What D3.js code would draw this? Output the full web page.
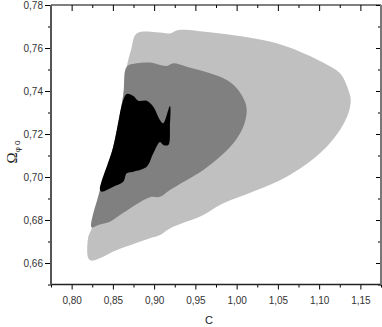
<!DOCTYPE html>
<html>
<head>
<meta charset="utf-8">
<script src="https://cdn.jsdelivr.net/npm/d3@7"></script>
<style>
  body { margin: 0; background: #fff; }
  text { font-family: "Liberation Sans", Arial, sans-serif; }
</style>
</head>
<body>
<svg id="chart" width="382" height="327"></svg>
<script>
// tick values
var xMajor = [0.80, 0.85, 0.90, 0.95, 1.00, 1.05, 1.10, 1.15];
var xMinor = [0.775, 0.825, 0.875, 0.925, 0.975, 1.025, 1.075, 1.125, 1.175];
var yMajor = [0.66, 0.68, 0.70, 0.72, 0.74, 0.76, 0.78];
var yMinor = [0.65, 0.67, 0.69, 0.71, 0.73, 0.75, 0.77];

// confidence regions, [C, Omega_phi0]
var region3 = [[0.8789,0.7668],[0.9031,0.7673],[0.9192,0.7668],[0.9293,0.7684],[0.9677,0.7673],
  [1.0077,0.7653],[1.0486,0.7622],[1.0768,0.7583],[1.1010,0.7540],[1.1253,0.7482],[1.1354,0.7405],
  [1.1383,0.7358],[1.1354,0.7296],[1.1253,0.7219],[1.1010,0.7110],[1.0607,0.7001],[1.0202,0.6932],
  [0.9798,0.6870],[0.9596,0.6823],[0.9192,0.6761],[0.9071,0.6730],[0.8950,0.6715],[0.8505,0.6653],
  [0.8384,0.6629],[0.8243,0.6611],[0.8202,0.6622],[0.8202,0.6722],[0.8243,0.6761],[0.8344,0.6940],
  [0.8505,0.7141],[0.8626,0.7381],[0.8668,0.7513],[0.8720,0.7591]];
var region2 = [[0.8668,0.7513],[0.8789,0.7529],[0.8950,0.7532],[0.9152,0.7516],[0.9232,0.7529],
  [0.9395,0.7513],[0.9677,0.7482],[0.9880,0.7451],[1.0001,0.7413],[1.0102,0.7350],[1.0122,0.7304],
  [1.0081,0.7234],[0.9960,0.7157],[0.9798,0.7094],[0.9596,0.7033],[0.9192,0.6940],[0.9071,0.6908],
  [0.8950,0.6906],[0.8586,0.6823],[0.8465,0.6792],[0.8323,0.6777],[0.8243,0.6766],[0.8344,0.6940],
  [0.8505,0.7141],[0.8626,0.7381]];
var region1 = [[0.8668,0.7386],[0.8748,0.7377],[0.8808,0.7355],[0.8910,0.7355],[0.8990,0.7327],
  [0.9071,0.7265],[0.9111,0.7250],[0.9192,0.7330],[0.9192,0.7234],[0.9172,0.7149],[0.9111,0.7149],
  [0.9071,0.7163],[0.8990,0.7110],[0.8910,0.7048],[0.8748,0.7025],[0.8668,0.7017],[0.8626,0.6978],
  [0.8505,0.6955],[0.8365,0.6932],[0.8344,0.6940],[0.8505,0.7141],[0.8626,0.7358]];

var regions = [
  {pts: region3, fill: "#c0c0c0"},
  {pts: region2, fill: "#808080"},
  {pts: region1, fill: "#000000"}
];

var svg = d3.select("#chart"),
    x0 = 51, x1 = 381, y0 = 5, y1 = 284.5;

var x = d3.scaleLinear().domain([0.775, 1.175]).range([x0, x1]);
var y = d3.scaleLinear().domain([0.65, 0.78]).range([y1, y0]);

var fmt = d => d3.format(".2f")(d).replace(".", ",");

var line = d3.line()
    .x(d => x(d[0]))
    .y(d => y(d[1]))
    .curve(d3.curveCatmullRomClosed.alpha(0.5));

svg.append("g")
  .selectAll("path")
  .data(regions)
  .enter().append("path")
    .attr("d", d => line(d.pts))
    .attr("fill", d => d.fill)
    .attr("stroke", "none");

// axes
function styleAxis(g) {
  g.select(".domain").remove();
  g.selectAll("line").attr("stroke", "#000");
  g.selectAll("text")
    .attr("fill", "#333")
    .style("font-size", "10px");
}

svg.append("g")
  .attr("transform", "translate(0," + y1 + ")")
  .call(d3.axisBottom(x).tickValues(xMajor).tickSize(5).tickPadding(7).tickFormat(fmt))
  .call(styleAxis);
svg.append("g")
  .attr("transform", "translate(0," + y1 + ")")
  .call(d3.axisBottom(x).tickValues(xMinor).tickSize(3).tickFormat(""))
  .call(styleAxis);

svg.append("g")
  .attr("transform", "translate(" + x0 + ",0)")
  .call(d3.axisLeft(y).tickValues(yMajor).tickSize(6).tickPadding(2).tickFormat(fmt))
  .call(styleAxis);
svg.append("g")
  .attr("transform", "translate(" + x0 + ",0)")
  .call(d3.axisLeft(y).tickValues(yMinor).tickSize(3).tickFormat(""))
  .call(styleAxis);

// mirrored ticks pointing inward on top and right
svg.append("g")
  .attr("transform", "translate(0," + y0 + ")")
  .call(d3.axisBottom(x).tickValues(xMajor).tickSize(6).tickFormat(""))
  .call(styleAxis);
svg.append("g")
  .attr("transform", "translate(0," + y0 + ")")
  .call(d3.axisBottom(x).tickValues(xMinor).tickSize(3).tickFormat(""))
  .call(styleAxis);
svg.append("g")
  .attr("transform", "translate(" + x1 + ",0)")
  .call(d3.axisLeft(y).tickValues(yMajor).tickSize(5).tickFormat(""))
  .call(styleAxis);
svg.append("g")
  .attr("transform", "translate(" + x1 + ",0)")
  .call(d3.axisLeft(y).tickValues(yMinor).tickSize(3).tickFormat(""))
  .call(styleAxis);

// frame
var frame = svg.append("g");
frame.append("line").attr("x1", x0).attr("x2", x1).attr("y1", y0).attr("y2", y0)
  .attr("stroke", "#000").attr("stroke-width", 1.2);
frame.append("line").attr("x1", x0).attr("x2", x1).attr("y1", y1).attr("y2", y1)
  .attr("stroke", "#222").attr("stroke-width", 1.6);
frame.append("line").attr("x1", x0).attr("x2", x0).attr("y1", y0).attr("y2", y1)
  .attr("stroke", "#555").attr("stroke-width", 2);
frame.append("line").attr("x1", x1).attr("x2", x1).attr("y1", y0).attr("y2", y1)
  .attr("stroke", "#777").attr("stroke-width", 2);

// axis titles
svg.append("text")
  .attr("x", 209).attr("y", 324)
  .attr("text-anchor", "middle")
  .attr("fill", "#222")
  .style("font-size", "11px")
  .text("C");

var yt = svg.append("text")
  .attr("transform", "translate(17,152) rotate(-90)")
  .attr("text-anchor", "middle")
  .attr("fill", "#222");
yt.append("tspan")
  .style("font-family", "'Liberation Serif', serif")
  .style("font-size", "15px")
  .text("Ω");
yt.append("tspan")
  .attr("dy", 3)
  .style("font-size", "8px")
  .text("φ 0");
</script>
</body>
</html>
